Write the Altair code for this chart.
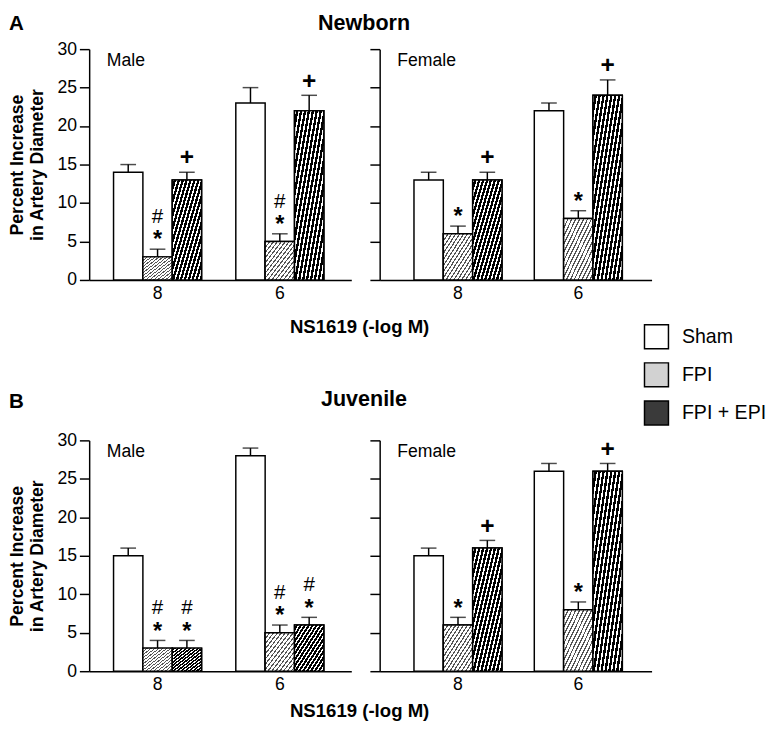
import altair as alt
import pandas as pd

FONT = "Liberation Sans"

DOSES = ["8", "6"]
GROUPS = ["Sham", "FPI", "FPI + EPI"]

# order within each list: dose 8 (Sham, FPI, FPI + EPI), then dose 6 (Sham, FPI, FPI + EPI)
NEWBORN_MALE_MEAN = [14, 3, 13, 23, 5, 22]
NEWBORN_MALE_SEM = [1, 1, 1, 2, 1, 2]
NEWBORN_MALE_SIG = ["", "*#", "+", "", "*#", "+"]

NEWBORN_FEMALE_MEAN = [13, 6, 13, 22, 8, 24]
NEWBORN_FEMALE_SEM = [1, 1, 1, 1, 1, 2]
NEWBORN_FEMALE_SIG = ["", "*", "+", "", "*", "+"]

JUVENILE_MALE_MEAN = [15, 3, 3, 28, 5, 6]
JUVENILE_MALE_SEM = [1, 1, 1, 1, 1, 1]
JUVENILE_MALE_SIG = ["", "*#", "*#", "", "*#", "*#"]

JUVENILE_FEMALE_MEAN = [15, 6, 16, 26, 8, 26]
JUVENILE_FEMALE_SEM = [1, 1, 1, 1, 1, 1]
JUVENILE_FEMALE_SIG = ["", "*", "+", "", "*", "+"]

Y_TICKS = [0, 5, 10, 15, 20, 25, 30]

# gap (in data units) between error-bar top and the significance symbols
STAR_GAP = 2.0
HASH_GAP = 4.3
PLUS_GAP = 1.9

SOLID = ["white", "#d2d2d2", "#3a3a3a"]

PLOT_H = 236


def hatch(line, bg, k=15, frac=0.35):
    stops = []
    for i in range(k):
        a = i / k
        b = (i + frac) / k
        c = (i + 1) / k
        stops += [
            {"offset": a, "color": line},
            {"offset": b, "color": line},
            {"offset": b, "color": bg},
            {"offset": c, "color": bg},
        ]
    return {"gradient": "linear", "x1": 0, "y1": 0, "x2": 1, "y2": 1, "stops": stops}


HATCH_LIGHT = hatch("#555555", "white")
HATCH_DARK = hatch("white", "black", frac=0.4)

LEGEND = alt.Legend(
    title=None, orient="none", legendX=567, legendY=281,
    symbolType="square", symbolSize=600, symbolStrokeColor="black",
    symbolStrokeWidth=1.5, labelFontSize=20, labelFont=FONT, labelColor="black",
    rowPadding=7, labelOffset=13,
)


def frames(mean, sem, sig):
    bars, syms = [], []
    i = 0
    for d in DOSES:
        for g in GROUPS:
            m, s, t = mean[i], sem[i], sig[i]
            hi = m + s
            bars.append({"dose": d, "group": g, "mean": m, "hi": hi})
            if "*" in t:
                syms.append({"dose": d, "group": g, "sym": "*", "y": hi + STAR_GAP})
            if "#" in t:
                syms.append({"dose": d, "group": g, "sym": "#", "y": hi + HASH_GAP})
            if "+" in t:
                syms.append({"dose": d, "group": g, "sym": "+", "y": hi + PLUS_GAP})
            i += 1
    return pd.DataFrame(bars), pd.DataFrame(syms)


def panel(mean, sem, sig, sex, width, pin, pout, align, left, title, xtitle_y, title_offset):
    bars, syms = frames(mean, sem, sig)
    if left:
        xaxis = alt.Axis(
            labelAngle=0, ticks=False, labelPadding=5, title="NS1619 (-log M)",
            titleX=276, titleY=xtitle_y, titleBaseline="middle", titleAlign="center",
            titleFontSize=19, titleFontWeight="bold",
        )
        yaxis = alt.Axis(
            values=Y_TICKS, tickSize=10, labelPadding=3, labelOverlap=False,
            title=["Percent Increase", "in Artery Diameter"], titleFontSize=18,
            titleFontWeight="bold", titleLineHeight=20, titlePadding=11,
        )
        ttl = alt.TitleParams(title, anchor="start", frame="bounds", fontSize=21,
                              fontWeight="bold", font=FONT, color="black",
                              offset=title_offset)
    else:
        xaxis = alt.Axis(labelAngle=0, ticks=False, labelPadding=5, title=None)
        yaxis = alt.Axis(values=Y_TICKS, tickSize=10, labels=False, title=None)
        ttl = alt.TitleParams(title, anchor="middle", frame="group", dx=-155, fontSize=22,
                              fontWeight="bold", font=FONT, color="black",
                              offset=title_offset + 7)

    x = alt.X("dose:N", sort=DOSES, axis=xaxis,
              scale=alt.Scale(domain=DOSES, paddingInner=pin, paddingOuter=pout, align=align))
    xo = alt.XOffset("group:N", sort=GROUPS,
                     scale=alt.Scale(domain=GROUPS, paddingInner=0, paddingOuter=0))
    yscale = alt.Scale(domain=[0, 30], nice=False)

    def yenc(field):
        return alt.Y(field, scale=yscale, axis=yaxis)

    base = alt.Chart(bars)
    solid = base.mark_bar(stroke="black", strokeWidth=1.5).encode(
        x=x, xOffset=xo, y=yenc("mean:Q"),
        fill=alt.Fill("group:N", scale=alt.Scale(domain=GROUPS, range=SOLID), legend=LEGEND),
    )
    light = base.transform_filter(alt.datum.group == "FPI").mark_bar(
        fill=HATCH_LIGHT, stroke="black", strokeWidth=1.5
    ).encode(x=x, xOffset=xo, y=yenc("mean:Q"))
    dark = base.transform_filter(alt.datum.group == "FPI + EPI").mark_bar(
        fill=HATCH_DARK, stroke="black", strokeWidth=1.5
    ).encode(x=x, xOffset=xo, y=yenc("mean:Q"))
    err = base.mark_rule(color="black", strokeWidth=1.5).encode(
        x=x, xOffset=xo, y=yenc("mean:Q"), y2="hi:Q"
    )
    cap = base.mark_tick(color="black", thickness=1.5, size=16, orient="horizontal").encode(
        x=x, xOffset=xo, y=yenc("hi:Q")
    )
    sbase = alt.Chart(syms)
    star = sbase.transform_filter(alt.datum.sym == "*").mark_text(
        font=FONT, fontSize=24, fontWeight="bold", color="black", baseline="middle", dy=7
    ).encode(x=x, xOffset=xo, y=yenc("y:Q"), text="sym:N")
    hsh = sbase.transform_filter(alt.datum.sym == "#").mark_text(
        font=FONT, fontSize=21, color="black", baseline="middle", dy=1
    ).encode(x=x, xOffset=xo, y=yenc("y:Q"), text="sym:N")
    plus = sbase.transform_filter(alt.datum.sym == "+").mark_text(
        font=FONT, fontSize=25, fontWeight="bold", color="black", baseline="middle"
    ).encode(x=x, xOffset=xo, y=yenc("y:Q"), text="sym:N")
    label = alt.Chart(pd.DataFrame({"t": [sex]})).mark_text(
        font=FONT, fontSize=18, color="black", align="left", baseline="middle"
    ).encode(x=alt.value(18), y=alt.value(12), text="t:N")

    return alt.layer(solid, light, dark, err, cap, star, hsh, plus, label).properties(
        width=width, height=PLOT_H, title=ttl
    )


row1 = alt.hconcat(
    panel(NEWBORN_MALE_MEAN, NEWBORN_MALE_SEM, NEWBORN_MALE_SIG, "Male",
          268, 0.28, 0.212, 0.47, True, "A", 48, 7),
    panel(NEWBORN_FEMALE_MEAN, NEWBORN_FEMALE_SEM, NEWBORN_FEMALE_SIG, "Female",
          278, 0.268, 0.264, 0.54, False, "Newborn", 48, 7),
    spacing=29, bounds="flush",
).resolve_scale(x="independent", y="independent")

row2 = alt.hconcat(
    panel(JUVENILE_MALE_MEAN, JUVENILE_MALE_SEM, JUVENILE_MALE_SIG, "Male",
          268, 0.28, 0.212, 0.47, True, "B", 40, 20),
    panel(JUVENILE_FEMALE_MEAN, JUVENILE_FEMALE_SEM, JUVENILE_FEMALE_SIG, "Female",
          278, 0.268, 0.264, 0.54, False, "Juvenile", 40, 20),
    spacing=29, bounds="flush",
).resolve_scale(x="independent", y="independent")

# nested rows count as zero height in a flush layout, so the spacing covers one plot height + gap
chart = alt.vconcat(row1, row2, spacing=PLOT_H + 164, bounds="flush").properties(
    padding={"top": -4, "left": 0, "right": 0, "bottom": 0}
).configure_view(stroke=None).configure_axis(
    domainColor="black", domainWidth=1.5, tickColor="black", tickWidth=1.5,
    labelColor="black", labelFont=FONT, labelFontSize=18, grid=False,
    titleColor="black", titleFont=FONT,
).configure_title(font=FONT)

chart.save("out.html", embed_options={"renderer": "svg", "actions": False})
